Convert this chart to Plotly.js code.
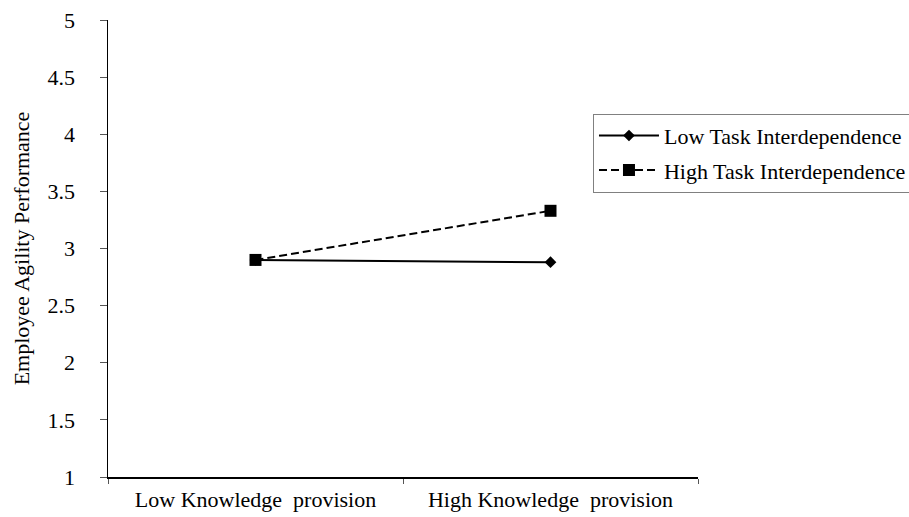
<!DOCTYPE html>
<html><head><meta charset="utf-8">
<script src="https://cdn.plot.ly/plotly-3.0.1.min.js"></script>
<style>html,body{margin:0;padding:0;background:#fff;overflow:hidden}</style>
</head><body><div id="chart" style="width:909px;height:517px"></div>
<script>
const categories = ['Low Knowledge\u00a0 provision', 'High Knowledge\u00a0 provision'];
const lowTaskValues = [2.90, 2.88];
const highTaskValues = [2.90, 3.33];
const seriesNames = ['Low Task Interdependence', 'High Task Interdependence'];
const yTicks = [1, 1.5, 2, 2.5, 3, 3.5, 4, 4.5, 5];

const font = {family: 'Liberation Serif, Times New Roman, serif', color: '#000'};

const data = [
  {x: categories, y: lowTaskValues, name: seriesNames[0], legendgroup: 'a', type: 'scatter', mode: 'lines+markers',
   line: {color: '#000', width: 2}, marker: {symbol: 'diamond', size: 9, color: '#000'}},
  {x: categories, y: highTaskValues, name: seriesNames[1], legendgroup: 'b', type: 'scatter', mode: 'lines+markers',
   line: {color: '#000', width: 2, dash: '8px,4px'}, marker: {symbol: 'square', size: 12, color: '#000'}}
];

const layout = {
  width: 909, height: 517,
  margin: {l: 108, r: 211, t: 20, b: 40, pad: 0, autoexpand: false},
  paper_bgcolor: '#fff', plot_bgcolor: '#fff',
  font: Object.assign({size: 22}, font),
  showlegend: true,
  legend: {x: 0.822, y: 0.795, xanchor: 'left', yanchor: 'top', bordercolor: '#808080', borderwidth: 1,
           bgcolor: '#fff', font: Object.assign({size: 22}, font), itemwidth: 60,
           traceorder: 'grouped', tracegroupgap: 3},
  xaxis: {type: 'category', range: [-0.5, 1.5], tickson: 'boundaries', ticks: 'outside', ticklen: 5,
          tickcolor: '#555', showline: true, linecolor: '#000', linewidth: 1.5, showgrid: false,
          zeroline: false, tickfont: Object.assign({size: 22}, font), ticklabelstandoff: 2, fixedrange: true},
  yaxis: {range: [1, 5], tickvals: yTicks, ticks: 'outside', ticklen: 7, tickcolor: '#555',
          showline: true, linecolor: '#000', linewidth: 1.5, showgrid: false, zeroline: false,
          tickfont: Object.assign({size: 22}, font), ticklabelstandoff: 20,
          title: {text: 'Employee Agility Performance', font: Object.assign({size: 22}, font), standoff: 12}}
};

Plotly.newPlot('chart', data, layout, {displayModeBar: false, staticPlot: true});
</script></body></html>
